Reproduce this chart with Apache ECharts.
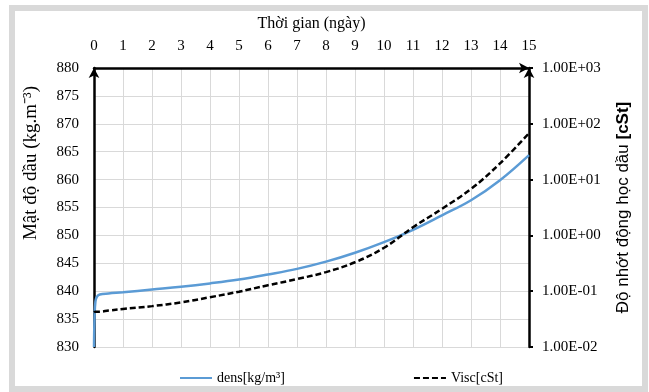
<!DOCTYPE html>
<html>
<head>
<meta charset="utf-8">
<script src="https://cdn.jsdelivr.net/npm/echarts@6/dist/echarts.min.js"></script>
<style>
  html, body { margin: 0; padding: 0; background: #fff; }
  #main { width: 649px; height: 392px; }
</style>
</head>
<body>
<div id="main"></div>
<script>
// thời gian (ngày)
var days = [0, 0.02, 0.05, 0.1, 0.2, 0.5, 1, 2, 3, 4, 5, 6, 7, 8, 9, 10, 11, 12, 13, 14, 15];
// mật độ dầu (kg/m3)
var dens = [830, 835.5, 838.2, 839.0, 839.4, 839.6, 839.8, 840.3, 840.8, 841.4, 842.1, 843.0, 844.0, 845.3, 846.9, 848.8, 851.0, 853.6, 856.3, 859.9, 864.4];
// độ nhớt (cSt)
var visc = [0.042, 0.042, 0.043, 0.043, 0.043, 0.045, 0.048, 0.054, 0.063, 0.078, 0.098, 0.128, 0.165, 0.22, 0.33, 0.6, 1.4, 3.0, 6.8, 19.5, 68];

function pairs(xs, ys) {
    return xs.map(function (x, i) { return [x, ys[i]]; });
}

function sci(v) {
    var e = Math.round(Math.log10(v));
    var s = (v / Math.pow(10, e)).toFixed(2);
    var ex = Math.abs(e) < 10 ? '0' + Math.abs(e) : '' + Math.abs(e);
    return s + 'E' + (e < 0 ? '-' : '+') + ex;
}

var serif = 'Liberation Serif';
var myChart = echarts.init(document.getElementById('main'));
var option = {
    backgroundColor: '#fff',
    animation: false,
    grid: { left: 94, right: 120, top: 68, bottom: 45 },
    legend: {
        top: 366,
        left: 174,
        itemGap: 128,
        itemWidth: 32,
        itemHeight: 10,
        itemStyle: { opacity: 0 },
        textStyle: { fontFamily: serif, fontSize: 14, color: '#000' },
        data: ['dens[kg/m³]', 'Visc[cSt]']
    },
    graphic: [
        {
            type: 'rect',
            shape: { x: 12, y: 8, width: 633, height: 381 },
            style: { fill: 'none', stroke: '#d9d9d9', lineWidth: 6 },
            silent: true
        },
        {
            type: 'text',
            x: 31, y: 163,
            rotation: Math.PI / 2,
            style: {
                text: 'Mật độ dầu (kg.m⁻³)',
                font: '19px "Liberation Serif"',
                fill: '#000',
                textAlign: 'center',
                textVerticalAlign: 'middle'
            }
        }
    ],
    xAxis: {
        type: 'value',
        position: 'top',
        min: 0,
        max: 15,
        interval: 1,
        name: 'Thời gian (ngày)',
        nameLocation: 'middle',
        nameGap: 36,
        nameTextStyle: { fontFamily: serif, fontSize: 16, color: '#000' },
        axisLine: {
            show: true,
            symbol: ['none', 'arrow'],
            symbolSize: [8, 10],
            lineStyle: { color: '#000', width: 2.5 }
        },
        axisTick: { show: false },
        axisLabel: { fontFamily: serif, fontSize: 15, color: '#000', margin: 14 },
        splitLine: { show: true, lineStyle: { color: '#d9d9d9', width: 1 } }
    },
    yAxis: [
        {
            type: 'value',
            min: 830,
            max: 880,
            interval: 5,
            axisLine: {
                show: true,
                symbol: ['none', 'arrow'],
                symbolSize: [8, 10],
                lineStyle: { color: '#000', width: 2.5 }
            },
            axisTick: { show: false },
            axisLabel: { fontFamily: serif, fontSize: 15, color: '#000', margin: 15 },
            splitLine: { show: true, lineStyle: { color: '#d9d9d9', width: 1 } }
        },
        {
            type: 'log',
            logBase: 10,
            min: 0.01,
            max: 1000,
            position: 'right',
            name: '{a|Độ nhớt động học dầu }{b|[cSt]}',
            nameLocation: 'middle',
            nameGap: 86,
            nameTextStyle: {
                rich: {
                    a: { fontFamily: 'Liberation Sans', fontSize: 17, color: '#000' },
                    b: { fontFamily: 'Liberation Sans', fontSize: 17, fontWeight: 'bold', color: '#000' }
                }
            },
            axisLine: {
                show: true,
                symbol: ['none', 'arrow'],
                symbolSize: [8, 10],
                lineStyle: { color: '#000', width: 2.5 }
            },
            axisTick: { show: true, length: 4, inside: false, lineStyle: { color: '#000', width: 2 } },
            axisLabel: { fontFamily: serif, fontSize: 15, color: '#000', margin: 13, formatter: sci },
            splitLine: { show: false }
        }
    ],
    series: [
        {
            name: 'dens[kg/m³]',
            type: 'line',
            yAxisIndex: 0,
            data: pairs(days, dens),
            symbol: 'none',
            smooth: 0.4,
            lineStyle: { color: '#5b9bd5', width: 2.5 },
            itemStyle: { color: '#5b9bd5' }
        },
        {
            name: 'Visc[cSt]',
            type: 'line',
            yAxisIndex: 1,
            data: pairs(days, visc),
            symbol: 'none',
            smooth: 0.4,
            lineStyle: { color: '#000', width: 2.5, type: [6, 3] },
            itemStyle: { color: '#000' }
        }
    ]
};
myChart.setOption(option);
</script>
</body>
</html>
